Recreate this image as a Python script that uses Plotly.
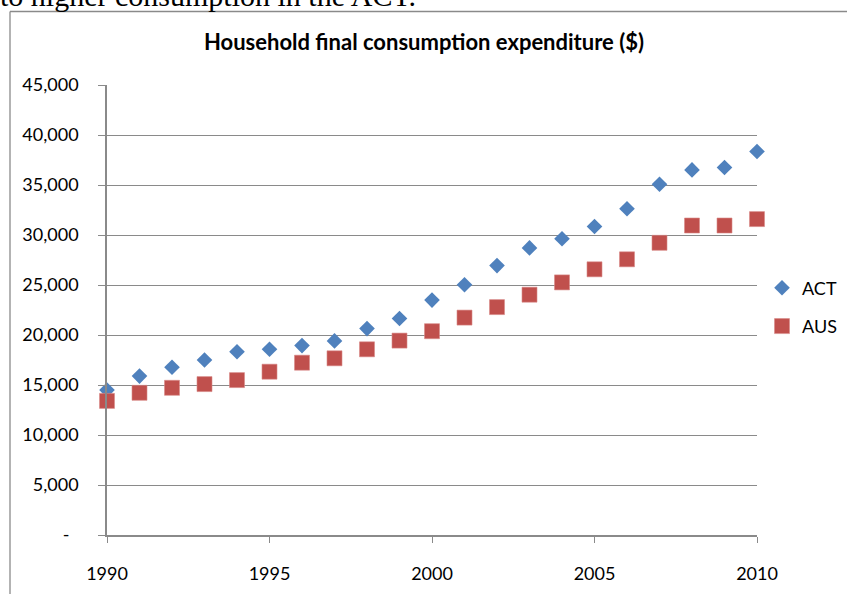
import plotly.graph_objects as go

# ---- data ----
years = list(range(1990, 2011))
act = [14490, 15890, 16770, 17500, 18330, 18570, 18940, 19410, 20640, 21650,
       23490, 25030, 26940, 28710, 29620, 30850, 32630, 35070, 36510, 36750, 38350]
aus = [13410, 14220, 14720, 15090, 15490, 16330, 17230, 17670, 18570, 19440,
       20380, 21740, 22790, 24030, 25260, 26570, 27570, 29220, 30950, 30950, 31590]
y_tick_vals = [0, 5000, 10000, 15000, 20000, 25000, 30000, 35000, 40000, 45000]
y_tick_text = ["-\u00a0\u00a0", "5,000", "10,000", "15,000", "20,000", "25,000",
               "30,000", "35,000", "40,000", "45,000"]
x_tick_vals = [1990, 1995, 2000, 2005, 2010]
x_tick_text = ["1990", "1995", "2000", "2005", "2010"]
title_text = "Household final consumption expenditure ($)"
doc_text = "to higher consumption in the ACT."

W, H = 847, 594
ML, MR, MT, MB = 107, 90, 85, 59
pw, ph = W - ML - MR, H - MT - MB

def px(x):
    return (x - ML) / pw

def py(y):
    return (H - MB - y) / ph

FONT = "Lato, 'Open Sans', sans-serif"
GRID = "#8a8a8a"

fig = go.Figure()
fig.add_trace(go.Scatter(x=years, y=act, mode="markers", name="ACT", legendgroup="a",
                         marker=dict(symbol="diamond", size=12, color="#4F81BD",
                                     line=dict(width=0)),
                         cliponaxis=False))
fig.add_trace(go.Scatter(x=years, y=aus, mode="markers", name="AUS", legendgroup="b",
                         marker=dict(symbol="square", size=15, color="#C0504D",
                                     line=dict(width=0.6, color="#d98a88")),
                         cliponaxis=False))

frame = dict(color="#8a8a8a", width=1.3)
fig.update_layout(
    width=W, height=H,
    margin=dict(l=ML, r=MR, t=MT, b=MB, pad=0, autoexpand=False),
    paper_bgcolor="white", plot_bgcolor="white",
    font=dict(family=FONT, size=18, color="black"),
    title=dict(text="<b>" + title_text + "</b>", x=424 / W, xanchor="center",
               y=1 - 42 / H, yanchor="middle", xref="container", yref="container",
               font=dict(family=FONT, size=22, color="black")),
    showlegend=True,
    legend=dict(x=px(762), xanchor="left", y=py(307), yanchor="middle",
                font=dict(family=FONT, size=18, color="black"),
                tracegroupgap=12, bgcolor="rgba(0,0,0,0)", itemwidth=30),
    xaxis=dict(range=[1990, 2010], tickvals=x_tick_vals, ticktext=x_tick_text,
               showgrid=False, zeroline=False, showline=True, linecolor=GRID, linewidth=1.5,
               ticks="outside", ticklen=6, tickcolor=GRID, tickwidth=1,
               ticklabelstandoff=16, automargin=False,
               tickfont=dict(family=FONT, size=18, color="black")),
    yaxis=dict(range=[0, 45000], tickvals=y_tick_vals, ticktext=y_tick_text,
               showgrid=True, gridcolor=GRID, gridwidth=1, zeroline=False,
               showline=True, linecolor=GRID, linewidth=1.5,
               ticks="outside", ticklen=7, tickcolor=GRID, tickwidth=1,
               ticklabelstandoff=16, automargin=False,
               tickfont=dict(family=FONT, size=18, color="black")),
    shapes=[
        dict(type="line", xref="paper", yref="paper",
             x0=px(10), x1=px(W), y0=py(11.5), y1=py(11.5), line=frame, layer="below"),
        dict(type="line", xref="paper", yref="paper",
             x0=px(10), x1=px(10), y0=py(11.5), y1=py(H), line=frame, layer="below"),
    ],
    annotations=[dict(text=doc_text, xref="paper", yref="paper",
                      x=px(-2), xanchor="left", y=py(-5), yanchor="middle",
                      showarrow=False,
                      font=dict(family="'Liberation Serif', 'Times New Roman', serif",
                                size=30, color="black"))],
)

fig.write_html("out.html", config={"displayModeBar": False},
               post_script="document.documentElement.style.overflow='hidden';"
                           "document.body.style.margin='0';document.body.style.padding='0';"
                           "document.body.style.overflow='hidden';")
